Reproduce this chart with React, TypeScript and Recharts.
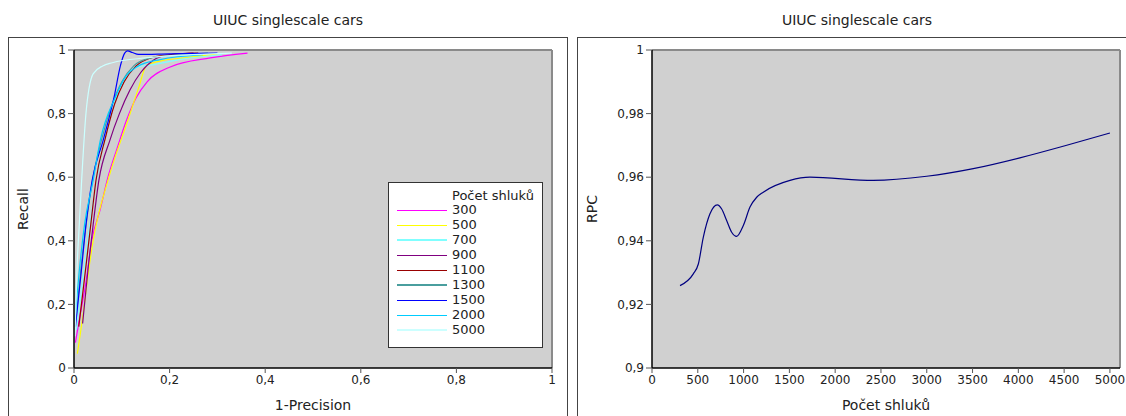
import { LineChart, Line, XAxis, YAxis, CartesianGrid, ReferenceLine } from 'recharts'

// ---- data ----
// left chart: recall vs 1-precision, one curve per cluster count
const clusterCounts = ['300', '500', '700', '900', '1100', '1300', '1500', '2000', '5000']

const curve300: [number, number][] = [
  [0.003, 0.08], [0.012, 0.16], [0.025, 0.27], [0.037, 0.4], [0.055, 0.5], [0.071, 0.6],
  [0.09, 0.69], [0.11, 0.78], [0.13, 0.85], [0.153, 0.9], [0.2, 0.946], [0.285, 0.975], [0.363, 0.99],
]
const curve500: [number, number][] = [
  [0.007, 0.045], [0.02, 0.18], [0.03, 0.3], [0.04, 0.4], [0.073, 0.6], [0.113, 0.78],
  [0.135, 0.88], [0.152, 0.952], [0.18, 0.965], [0.24, 0.977], [0.3, 0.988],
]
const curve700: [number, number][] = [
  [0.005, 0.12], [0.02, 0.3], [0.033, 0.45], [0.048, 0.6], [0.068, 0.75], [0.088, 0.85],
  [0.11, 0.92], [0.13, 0.945], [0.17, 0.955], [0.22, 0.97], [0.31, 0.985],
]
const curve900: [number, number][] = [
  [0.018, 0.14], [0.03, 0.32], [0.04, 0.45], [0.052, 0.59], [0.075, 0.716], [0.095, 0.8],
  [0.117, 0.874], [0.14, 0.93], [0.166, 0.968], [0.2, 0.985], [0.25, 0.99],
]
const curve1100: [number, number][] = [
  [0.01, 0.13], [0.025, 0.32], [0.035, 0.45], [0.046, 0.59], [0.065, 0.72], [0.085, 0.83],
  [0.105, 0.9], [0.13, 0.95], [0.16, 0.975], [0.2, 0.985], [0.26, 0.99],
]
const curve1300: [number, number][] = [
  [0.004, 0.15], [0.015, 0.32], [0.027, 0.47], [0.04, 0.6], [0.058, 0.72], [0.08, 0.83],
  [0.1, 0.9], [0.125, 0.95], [0.16, 0.975], [0.22, 0.985], [0.28, 0.99],
]
const curve1500: [number, number][] = [
  [0.003, 0.13], [0.015, 0.3], [0.025, 0.45], [0.038, 0.59], [0.061, 0.716], [0.085, 0.86],
  [0.097, 0.95], [0.106, 0.99], [0.112, 0.997], [0.122, 0.992], [0.135, 0.986], [0.2, 0.988], [0.3, 0.99],
]
const curve2000: [number, number][] = [
  [0.002, 0.15], [0.012, 0.32], [0.022, 0.45], [0.04, 0.59], [0.055, 0.716], [0.086, 0.85],
  [0.11, 0.92], [0.13, 0.946], [0.18, 0.97], [0.27, 0.985],
]
const curve5000: [number, number][] = [
  [0.002, 0.1], [0.006, 0.3], [0.011, 0.45], [0.016, 0.59], [0.025, 0.8], [0.04, 0.925],
  [0.06, 0.95], [0.08, 0.96], [0.15, 0.975], [0.33, 0.99],
]

const curves = [curve300, curve500, curve700, curve900, curve1100, curve1300, curve1500, curve2000, curve5000]
const curveColors = ['#ff00ff', '#ffff00', '#80ffff', '#800080', '#990000', '#4a9e9e', '#0000ff', '#00ccff', '#ccffff']
const legendWidths = [1, 1, 2, 1, 1, 2, 1, 1, 2]

const unitTicks = [0, 0.2, 0.4, 0.6, 0.8, 1]

// right chart: RPC vs cluster count
const rpcClusters = [306, 451, 506, 560, 633, 713, 761, 815, 870, 924, 997, 1070, 1143, 1215, 1507, 1725, 2416, 2999, 3508, 4017, 4509, 5000]
const rpcValues = [
  0.9259, 0.9296, 0.9327, 0.9411, 0.9485, 0.9513, 0.95, 0.9464, 0.9427, 0.9414, 0.9448, 0.9506,
  0.9537, 0.9553, 0.959, 0.96, 0.959, 0.9603, 0.9627, 0.9661, 0.9699, 0.9739,
]
const rpcXTicks = [0, 500, 1000, 1500, 2000, 2500, 3000, 3500, 4000, 4500, 5000]
const rpcYTicks = [0.9, 0.92, 0.94, 0.96, 0.98, 1]

const FONT = '"DejaVu Sans", sans-serif'
const TEXT = '#222'
const PLOT_BG = '#d0d0d0'
const fmt = (v: number) => String(v).replace('.', ',')
const tickStyle = { fontSize: 12, fill: TEXT, fontFamily: FONT }

function yTitle(text: string) {
  return (props: any) => {
    const vb = props.viewBox || {}
    const cy = (vb.y ?? 0) + (vb.height ?? 0) / 2
    return (
      <text x={15} y={cy} transform={`rotate(-90 15 ${cy})`} textAnchor="middle" dominantBaseline="central"
        fontSize={14} fill={TEXT} fontFamily={FONT}>{text}</text>
    )
  }
}

function xTitle(text: string) {
  return (props: any) => {
    const vb = props.viewBox || {}
    const cx = (vb.x ?? 0) + (vb.width ?? 0) / 2
    return (
      <text x={cx} y={(vb.y ?? 0) + 42} textAnchor="middle" fontSize={14} fill={TEXT} fontFamily={FONT}>{text}</text>
    )
  }
}

function RocChart() {
  return (
    <LineChart width={560} height={379} margin={{ top: 13, right: 16, bottom: 0, left: 0 }}>
      <CartesianGrid horizontal={false} vertical={false} fill={PLOT_BG} />
      <XAxis type="number" dataKey="x" domain={[0, 1]} ticks={unitTicks} tickFormatter={fmt}
        tick={tickStyle} tickSize={5} tickMargin={2} height={48} allowDataOverflow
        axisLine={{ stroke: '#000', strokeWidth: 1.5 }} tickLine={{ stroke: '#555' }}
        label={{ content: xTitle('1-Precision') }} />
      <YAxis type="number" domain={[0, 1]} ticks={unitTicks} tickFormatter={fmt}
        tick={tickStyle} tickSize={6} tickMargin={2} width={66} allowDataOverflow
        axisLine={{ stroke: '#000', strokeWidth: 1.5 }} tickLine={{ stroke: '#555' }}
        label={{ content: yTitle('Recall') }} />
      <ReferenceLine y={1} stroke="#8a8a8a" strokeWidth={2} />
      <ReferenceLine x={1} stroke="#8a8a8a" strokeWidth={2} />
      {curves.map((c, i) => (
        <Line key={clusterCounts[i]} data={c.map(([x, y]) => ({ x, y }))} dataKey="y" type="monotone"
          stroke={curveColors[i]} strokeWidth={1.2} dot={false} isAnimationActive={false} />
      ))}
    </LineChart>
  )
}

function RpcChart() {
  const data = rpcClusters.map((x, i) => ({ x, y: rpcValues[i] }))
  return (
    <LineChart width={560} height={379} data={data} margin={{ top: 13, right: 17, bottom: 0, left: 0 }}>
      <CartesianGrid horizontal={false} vertical={false} fill={PLOT_BG} />
      <XAxis type="number" dataKey="x" domain={[0, 5110]} ticks={rpcXTicks}
        tick={tickStyle} tickSize={5} tickMargin={2} height={48} interval={0}
        axisLine={{ stroke: '#000', strokeWidth: 1.5 }} tickLine={{ stroke: '#555' }}
        label={{ content: xTitle('Počet shluků') }} />
      <YAxis type="number" domain={[0.9, 1]} ticks={rpcYTicks} tickFormatter={fmt}
        tick={tickStyle} tickSize={6} tickMargin={2} width={75}
        axisLine={{ stroke: '#000', strokeWidth: 1.5 }} tickLine={{ stroke: '#555' }}
        label={{ content: yTitle('RPC') }} />
      <ReferenceLine y={1} stroke="#8a8a8a" strokeWidth={2} />
      <ReferenceLine x={5110} stroke="#8a8a8a" strokeWidth={2} />
      <Line dataKey="y" type="monotone" stroke="#000080" strokeWidth={1.2} dot={false} isAnimationActive={false} />
    </LineChart>
  )
}

function LegendBox() {
  return (
    <div style={{ position: 'absolute', left: 388, top: 182, width: 153, height: 164, background: '#fff',
      border: '1px solid #333', fontFamily: FONT, fontSize: 13, color: TEXT }}>
      <div style={{ position: 'absolute', left: 63, top: 5, whiteSpace: 'nowrap' }}>Počet shluků</div>
      {clusterCounts.map((name, i) => (
        <div key={name} style={{ position: 'absolute', left: 0, top: 20 + i * 15, height: 15, width: 153 }}>
          <div style={{ position: 'absolute', left: 8, top: 7 - Math.floor(legendWidths[i] / 2), width: 50,
            height: legendWidths[i], background: curveColors[i] }} />
          <div style={{ position: 'absolute', left: 63, top: -1 }}>{name}</div>
        </div>
      ))}
    </div>
  )
}

export default function App() {
  return (
    <div style={{ position: 'absolute', left: 0, top: 0, width: 1126, height: 416, overflow: 'hidden',
      background: '#fff', fontFamily: FONT }}>
      <div style={{ position: 'absolute', left: 8, top: 12, width: 560, textAlign: 'center', fontSize: 14, color: TEXT }}>
        UIUC singlescale cars
      </div>
      <div style={{ position: 'absolute', left: 577, top: 12, width: 560, textAlign: 'center', fontSize: 14, color: TEXT }}>
        UIUC singlescale cars
      </div>
      <div style={{ position: 'absolute', left: 8, top: 37, width: 558, height: 400, border: '1px solid #444' }} />
      <div style={{ position: 'absolute', left: 577, top: 37, width: 600, height: 400, border: '1px solid #444' }} />
      <div style={{ position: 'absolute', left: 8, top: 37 }}>
        <RocChart />
      </div>
      <div style={{ position: 'absolute', left: 577, top: 37 }}>
        <RpcChart />
      </div>
      <LegendBox />
    </div>
  )
}
